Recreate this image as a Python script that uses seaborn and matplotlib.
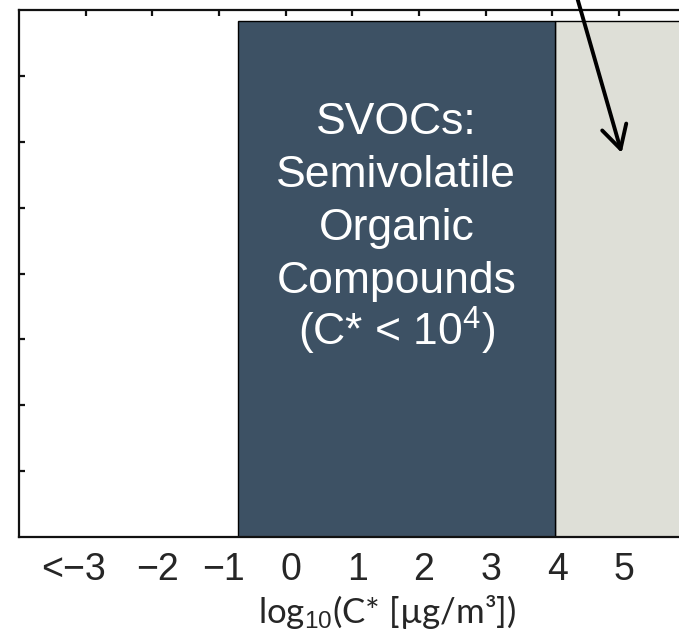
import matplotlib
matplotlib.use("Agg")
import matplotlib.pyplot as plt
import matplotlib.transforms as mtransforms
import seaborn as sns
import numpy as np

# ---- data ----
tick_values = [-3, -2, -1, 0, 1, 2, 3, 4, 5]
tick_labels = ["<\u22123", "\u22122", "\u22121", "0", "1", "2", "3", "4", "5"]
class_names = ["SVOC", "IVOC"]
class_edges = [-0.72, 4.04, 7.0]      # log10 C* bin boundaries
class_heights = [7.84, 7.84]
class_colors = {"SVOC": "#3d5164", "IVOC": "#dedfd7"}
box_lines = ["SVOCs:", "Semivolatile", "Organic", "Compounds", "(C* < 10$^{4}$)"]
x_label = "log$_{10}$(C* [\u00b5g/m\u00b3])"
arrow_tip = (5.04, 5.83)
arrow_tail = (4.19, 8.83)

sns.set_style("white")
plt.rcParams["font.family"] = ["Liberation Sans", "DejaVu Sans"]
plt.rcParams["mathtext.fontset"] = "custom"
plt.rcParams["mathtext.rm"] = "Liberation Sans"
plt.rcParams["mathtext.it"] = "Liberation Sans"

fig = plt.figure(figsize=(6.79, 6.39), dpi=100)
ax = fig.add_axes([19 / 679, 102 / 639, 660 / 679, 527 / 639])

centers = [(class_edges[i] + class_edges[i + 1]) / 2 for i in range(len(class_names))]
sns.histplot(x=centers, weights=class_heights, bins=class_edges, hue=class_names,
             palette=class_colors, multiple="layer", alpha=1, edgecolor="black",
             linewidth=1.0, legend=False, ax=ax)

ax.set_xlim(-4, -4 + 660 / (200 / 3))
ax.set_ylim(0, 8)
ax.set_axisbelow(False)

# spines
for side in ["left", "bottom", "top"]:
    ax.spines[side].set_visible(True)
    ax.spines[side].set_linewidth(1.6)
    ax.spines[side].set_color("#111111")
ax.spines["right"].set_visible(False)

ax.set_xticks(tick_values)
ax.set_xticklabels(tick_labels)
ax.set_yticks(range(1, 8))
ax.set_yticklabels([])
ax.tick_params(axis="both", direction="in", length=4.5, width=1.6, color="#111111")
ax.tick_params(axis="x", top=True, labeltop=False, labelsize=27, pad=10.5)
ax.tick_params(axis="y", left=True, right=False)

offsets_px = [-12] + [5] * (len(tick_labels) - 1)
for lab, dx in zip(ax.get_xticklabels(), offsets_px):
    lab.set_transform(lab.get_transform() +
                      mtransforms.ScaledTranslation(dx / 100, 0, fig.dpi_scale_trans))

ax.set_ylabel("")
ax.set_xlabel(x_label, fontsize=25, family=["Lato", "DejaVu Sans"], labelpad=0)
ax.xaxis.set_label_coords(0.557, -0.106)
ax.xaxis.label.set_va("top")

first_baseline, line_step = 6.12, 0.805
for i, line in enumerate(box_lines):
    ax.text(centers[0], first_baseline - i * line_step, line, color="white",
            fontsize=32, ha="center", va="baseline")

ax.annotate("", xy=arrow_tip, xytext=arrow_tail, annotation_clip=False,
            arrowprops=dict(arrowstyle="->,head_length=0.55,head_width=0.3",
                            lw=2.8, color="black", mutation_scale=30,
                            shrinkA=0, shrinkB=0, clip_on=False))

fig.savefig("out.png", dpi=100)
